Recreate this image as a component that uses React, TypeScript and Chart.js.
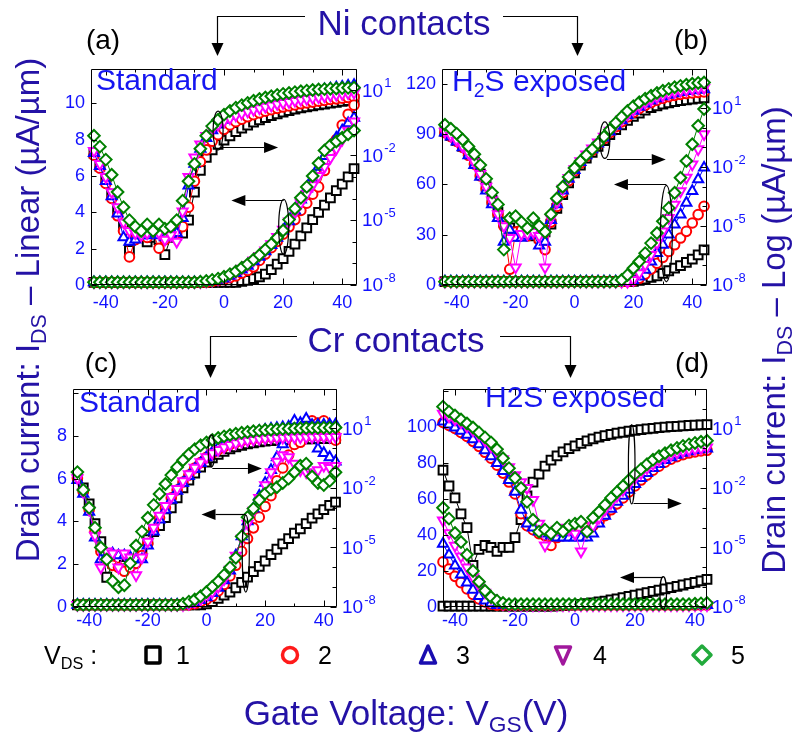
import React, { useEffect, useRef } from 'react';
import { Chart, registerables } from 'chart.js';

Chart.register(...registerables);

const FONT = '"Liberation Sans", Arial, Helvetica, sans-serif';
Chart.defaults.font.family = FONT;

// ---------------- DATA ----------------
const VGS = [-44, -42, -40, -38, -36, -34, -32, -30, -28, -26, -24, -22, -20, -18, -16, -14, -12, -10, -8, -6, -4, -2, 0, 2, 4, 6, 8, 10, 12, 14, 16, 18, 20, 22, 24, 26, 28, 30, 32, 34, 36, 38, 40, 42, 44];
const VDS_LABELS = ['1', '2', '3', '4', '5'];
const X_TICKS = [-40, -20, 0, 20, 40];
const LOG_TICK_LABELS = [1, -2, -5, -8];

// (a) Ni contacts, standard. log values are exponents of 10 (µA/µm)
const A_LOG_1 = [-1.9,-2.5,-3.1,-3.8,-4.5,-5.3,-6.4,-5.8,-5.7,-6.0,-5.8,-5.9,-6.6,-5.8,-5.7,-5.6,-5.0,-3.7,-2.7,-2.1,-1.75,-1.5,-1.3,-1.1,-0.9,-0.74,-0.6,-0.47,-0.36,-0.26,-0.17,-0.08,0.0,0.07,0.13,0.19,0.24,0.29,0.33,0.37,0.41,0.45,0.49,0.53,0.57];
const A_LOG_2 = [-2.0,-2.6,-3.3,-4.0,-4.8,-5.5,-6.7,-5.9,-5.7,-5.8,-5.6,-6.3,-5.9,-5.7,-5.6,-5.3,-4.4,-3.2,-2.3,-1.75,-1.35,-1.05,-0.8,-0.6,-0.45,-0.33,-0.22,-0.12,-0.04,0.04,0.11,0.17,0.23,0.28,0.33,0.38,0.42,0.46,0.5,0.54,0.58,0.61,0.64,0.67,0.7];
const A_LOG_3 = [-1.9,-2.5,-3.2,-3.9,-4.7,-5.8,-6.0,-5.9,-5.7,-5.7,-5.6,-5.7,-5.8,-5.7,-5.6,-4.9,-3.4,-2.4,-1.7,-1.2,-0.85,-0.58,-0.36,-0.18,-0.03,0.1,0.21,0.31,0.4,0.48,0.56,0.63,0.7,0.76,0.82,0.87,0.92,0.97,1.01,1.05,1.09,1.13,1.17,1.21,1.25];
const A_LOG_4 = [-1.8,-2.4,-3.0,-3.7,-4.4,-5.1,-5.5,-5.6,-5.7,-5.6,-5.5,-5.6,-5.9,-5.7,-6.0,-4.6,-3.0,-2.1,-1.5,-1.1,-0.8,-0.58,-0.42,-0.28,-0.16,-0.06,0.03,0.11,0.18,0.25,0.31,0.37,0.42,0.47,0.52,0.57,0.61,0.65,0.69,0.73,0.77,0.8,0.84,0.87,0.9];
const A_LOG_5 = [-1.1,-1.6,-2.2,-2.9,-3.7,-4.4,-5.0,-5.3,-5.5,-5.2,-5.5,-5.2,-5.4,-5.3,-5.0,-4.1,-3.2,-2.4,-1.7,-1.1,-0.65,-0.35,-0.12,0.05,0.2,0.32,0.42,0.52,0.6,0.67,0.73,0.79,0.84,0.88,0.92,0.96,0.99,1.02,1.04,1.06,1.08,1.09,1.11,1.12,1.13];
const A_LIN_1 = [0.15,0.15,0.15,0.15,0.15,0.15,0.15,0.15,0.15,0.15,0.15,0.15,0.15,0.15,0.15,0.15,0.15,0.15,0.15,0.15,0.15,0.15,0.15,0.15,0.15,0.2,0.25,0.35,0.45,0.6,0.85,1.15,1.45,1.85,2.25,2.7,3.15,3.6,4.0,4.4,4.8,5.2,5.55,5.95,6.4];
const A_LIN_2 = [0.15,0.15,0.15,0.15,0.15,0.15,0.15,0.15,0.15,0.15,0.15,0.15,0.15,0.15,0.15,0.15,0.15,0.15,0.15,0.15,0.2,0.25,0.3,0.4,0.5,0.65,0.8,1.0,1.35,1.7,2.05,2.4,2.8,3.2,3.6,4.1,4.5,5.0,5.4,6.3,7.2,8.0,8.8,9.4,9.9];
const A_LIN_3 = [0.15,0.15,0.15,0.15,0.15,0.15,0.15,0.15,0.15,0.15,0.15,0.15,0.15,0.15,0.15,0.15,0.15,0.15,0.15,0.18,0.22,0.28,0.35,0.5,0.65,0.85,1.05,1.3,1.55,1.85,2.2,2.6,3.0,3.5,4.1,4.7,5.3,5.9,6.5,7.1,7.6,8.1,8.5,8.9,9.2];
const A_LIN_4 = [0.15,0.15,0.15,0.15,0.15,0.15,0.15,0.15,0.15,0.15,0.15,0.15,0.15,0.15,0.15,0.15,0.15,0.15,0.15,0.2,0.25,0.32,0.4,0.55,0.7,0.9,1.1,1.35,1.6,1.9,2.25,2.65,3.05,3.5,4.0,4.5,5.0,5.5,6.0,6.5,7.0,7.5,8.0,8.5,9.0];
const A_LIN_5 = [0.15,0.15,0.15,0.15,0.15,0.15,0.15,0.15,0.15,0.15,0.15,0.15,0.15,0.15,0.15,0.15,0.15,0.15,0.18,0.22,0.28,0.35,0.45,0.6,0.75,0.95,1.15,1.4,1.65,1.95,2.25,2.6,3.0,3.6,4.2,4.8,5.4,6.0,6.7,7.4,7.7,7.9,8.1,8.3,8.5];

// (b) Ni contacts, H2S exposed
const B_LOG_1 = [-0.2,-0.4,-0.65,-0.95,-1.3,-1.75,-2.35,-3.0,-3.7,-4.3,-4.8,-5.1,-5.3,-5.3,-5.2,-5.5,-5.6,-5.3,-4.9,-4.1,-3.4,-2.8,-2.3,-1.9,-1.55,-1.25,-0.95,-0.65,-0.35,-0.1,0.15,0.38,0.58,0.75,0.9,1.02,1.12,1.2,1.27,1.33,1.38,1.42,1.46,1.49,1.52];
const B_LOG_2 = [-0.25,-0.45,-0.7,-1.0,-1.4,-1.85,-2.45,-3.1,-3.8,-4.4,-5.0,-7.2,-5.3,-5.2,-5.5,-5.4,-5.7,-6.2,-4.8,-4.0,-3.3,-2.7,-2.2,-1.8,-1.45,-1.15,-0.85,-0.55,-0.25,0.05,0.3,0.55,0.78,0.98,1.14,1.28,1.4,1.5,1.58,1.65,1.7,1.74,1.77,1.8,1.82];
const B_LOG_3 = [-0.25,-0.45,-0.7,-1.0,-1.4,-1.9,-2.5,-3.2,-3.9,-4.6,-5.8,-5.2,-5.6,-5.6,-5.5,-5.4,-6.0,-5.8,-4.7,-3.9,-3.2,-2.6,-2.15,-1.75,-1.4,-1.1,-0.8,-0.5,-0.2,0.1,0.38,0.63,0.86,1.06,1.23,1.38,1.5,1.6,1.68,1.75,1.81,1.86,1.9,1.93,1.95];
const B_LOG_4 = [-0.2,-0.4,-0.65,-0.95,-1.3,-1.75,-2.35,-3.0,-3.7,-4.4,-5.0,-5.6,-7.1,-5.4,-5.4,-5.3,-5.5,-7.1,-4.6,-3.8,-3.1,-2.55,-2.1,-1.7,-1.35,-1.05,-0.75,-0.45,-0.15,0.15,0.42,0.68,0.9,1.1,1.27,1.42,1.55,1.65,1.74,1.82,1.88,1.93,1.97,2.0,2.03];
const B_LOG_5 = [0.15,-0.05,-0.3,-0.6,-0.95,-1.35,-1.9,-2.6,-3.3,-3.9,-6.2,-4.6,-4.5,-4.8,-5.1,-4.6,-5.0,-5.3,-4.4,-3.6,-3.0,-2.5,-2.05,-1.7,-1.4,-1.1,-0.8,-0.45,-0.1,0.25,0.55,0.85,1.1,1.3,1.48,1.63,1.77,1.88,1.98,2.06,2.13,2.19,2.24,2.28,2.3];
const B_LIN_1 = [2,2,2,2,2,2,2,2,2,2,2,2,2,2,2,2,2,2,2,2,2,2,2,2,2,2,2,2,2,2,2,2,2.2,2.8,3.5,4.5,5.5,7,8.5,10,11.5,13.5,15.5,18,21];
const B_LIN_2 = [2,2,2,2,2,2,2,2,2,2,2,2,2,2,2,2,2,2,2,2,2,2,2,2,2,2,2,2,2,2,2,2,2.5,4,6.5,9.5,13,16.5,20,24,28,32,37,42,47];
const B_LIN_3 = [2,2,2,2,2,2,2,2,2,2,2,2,2,2,2,2,2,2,2,2,2,2,2,2,2,2,2,2,2,2,2,2,2.5,5,9,14,19,24,30,36,42,49,56,63,70];
const B_LIN_4 = [2,2,2,2,2,2,2,2,2,2,2,2,2,2,2,2,2,2,2,2,2,2,2,2,2,2,2,2,2,2,2,2,3,7,12,18,25,32,40,48,56,64,72,81,90];
const B_LIN_5 = [2,2,2,2,2,2,2,2,2,2,2,2,2,2,2,2,2,2,2,2,2,2,2,2,2,2,2,2,2,2,3,6,10,14,19,25,31,38,46,55,64,74,84,95,105];

// (c) Cr contacts, standard
const C_LOG_1 = [-1.4,-2.0,-2.8,-3.8,-4.7,-6.5,-5.8,-5.6,-5.9,-5.7,-5.6,-5.1,-4.6,-4.2,-3.9,-3.5,-3.0,-2.5,-2.0,-1.6,-1.25,-0.95,-0.7,-0.48,-0.3,-0.15,-0.03,0.07,0.15,0.22,0.28,0.32,0.36,0.39,0.41,0.43,0.44,0.45,0.46,0.47,0.48,0.49,0.49,0.5,0.5];
const C_LOG_2 = [-1.5,-2.2,-3.1,-4.2,-5.2,-5.6,-5.9,-6.0,-6.2,-6.0,-5.8,-5.4,-4.8,-4.1,-3.5,-3.0,-2.5,-2.1,-1.7,-1.35,-1.0,-0.72,-0.45,-0.25,-0.07,0.08,0.2,0.3,0.38,0.44,0.49,0.53,0.56,0.58,0.6,0.61,0.62,0.62,0.63,0.63,0.63,0.64,0.64,0.64,0.64];
const C_LOG_3 = [-1.6,-2.3,-3.2,-4.5,-5.6,-5.4,-5.3,-5.4,-5.4,-5.5,-5.6,-5.6,-4.9,-4.2,-3.6,-3.1,-2.6,-2.15,-1.75,-1.4,-1.05,-0.75,-0.45,-0.2,0.02,0.2,0.36,0.5,0.62,0.72,0.8,0.87,0.93,0.98,1.02,1.06,1.09,1.12,1.14,1.16,1.17,1.18,1.19,1.2,1.2];
const C_LOG_4 = [-1.5,-2.2,-3.1,-4.4,-6.0,-5.2,-5.3,-6.0,-5.3,-5.5,-6.4,-5.5,-4.7,-4.0,-3.4,-2.9,-2.45,-2.05,-1.65,-1.3,-0.98,-0.7,-0.45,-0.25,-0.08,0.06,0.17,0.26,0.33,0.39,0.43,0.47,0.5,0.52,0.53,0.54,0.55,0.55,0.56,0.56,0.56,0.57,0.57,0.57,0.57];
const C_LOG_5 = [-1.2,-2.1,-3.0,-4.0,-5.0,-5.6,-6.7,-7.0,-6.9,-5.8,-4.9,-4.2,-3.5,-2.85,-2.3,-1.8,-1.35,-0.95,-0.6,-0.3,-0.05,0.15,0.3,0.42,0.52,0.6,0.67,0.73,0.78,0.82,0.86,0.89,0.92,0.94,0.96,0.98,0.99,1.0,1.01,1.02,1.03,1.03,1.04,1.04,1.05];
const C_LIN_1 = [0.1,0.1,0.1,0.1,0.1,0.1,0.1,0.1,0.1,0.1,0.1,0.1,0.1,0.1,0.1,0.1,0.1,0.1,0.1,0.1,0.1,0.1,0.15,0.25,0.4,0.55,0.7,0.9,1.15,1.4,1.65,1.9,2.15,2.45,2.7,2.95,3.2,3.45,3.65,3.9,4.15,4.35,4.55,4.75,4.9];
const C_LIN_2 = [0.1,0.1,0.1,0.1,0.1,0.1,0.1,0.1,0.1,0.1,0.1,0.1,0.1,0.1,0.1,0.1,0.1,0.1,0.1,0.1,0.15,0.25,0.35,0.5,0.75,1.05,1.45,1.95,2.6,3.2,3.7,4.2,4.7,5.2,5.9,6.5,7.1,7.6,7.7,8.3,8.7,8.6,8.7,8.2,7.8];
const C_LIN_3 = [0.1,0.1,0.1,0.1,0.1,0.1,0.1,0.1,0.1,0.1,0.1,0.1,0.1,0.1,0.1,0.1,0.1,0.1,0.1,0.15,0.22,0.32,0.45,0.65,0.9,1.25,1.7,2.4,3.3,4.0,4.6,5.2,5.8,6.4,7.0,7.6,8.3,8.7,8.6,8.8,8.0,7.4,7.2,7.0,6.8];
const C_LIN_4 = [0.1,0.1,0.1,0.1,0.1,0.1,0.1,0.1,0.1,0.1,0.1,0.1,0.1,0.1,0.1,0.1,0.1,0.1,0.1,0.15,0.25,0.35,0.5,0.7,0.95,1.3,1.75,2.4,3.2,3.9,4.5,5.1,5.7,6.3,6.8,7.1,7.0,6.7,6.4,6.3,6.2,6.4,6.6,6.5,6.6];
const C_LIN_5 = [0.1,0.1,0.1,0.1,0.1,0.1,0.1,0.1,0.1,0.1,0.1,0.1,0.1,0.1,0.1,0.1,0.1,0.1,0.15,0.25,0.35,0.5,0.7,0.95,1.2,1.5,1.85,2.3,3.3,4.2,4.6,5.0,5.3,5.5,5.6,5.8,6.0,6.3,6.6,6.7,6.1,5.8,5.7,5.9,6.3];

// (d) Cr contacts, H2S exposed
const D_LOG_1 = [-1.1,-1.9,-2.5,-3.3,-4.0,-5.9,-5.1,-4.9,-5.0,-5.2,-5.0,-5.0,-4.5,-3.6,-2.4,-1.7,-1.3,-0.9,-0.6,-0.38,-0.18,-0.02,0.12,0.25,0.37,0.47,0.56,0.64,0.7,0.76,0.81,0.86,0.9,0.94,0.98,1.01,1.04,1.07,1.09,1.11,1.13,1.15,1.17,1.18,1.19];
const D_LOG_2 = [1.3,1.15,1.0,0.8,0.6,0.35,0.1,-0.2,-0.5,-0.85,-1.25,-1.7,-2.3,-3.3,-3.9,-4.1,-4.3,-4.4,-4.9,-4.5,-4.4,-4.3,-4.2,-4.1,-4.0,-3.9,-3.7,-3.4,-3.1,-2.8,-2.5,-2.2,-1.9,-1.6,-1.35,-1.1,-0.9,-0.7,-0.55,-0.42,-0.32,-0.24,-0.18,-0.13,-0.1];
const D_LOG_3 = [1.35,1.2,1.05,0.88,0.68,0.45,0.2,-0.1,-0.4,-0.75,-1.15,-1.6,-2.2,-3.1,-3.8,-4.0,-4.2,-4.3,-4.4,-4.5,-4.5,-4.5,-4.5,-4.5,-4.5,-4.3,-3.8,-3.4,-3.05,-2.7,-2.4,-2.1,-1.8,-1.5,-1.25,-1.0,-0.8,-0.6,-0.45,-0.33,-0.23,-0.15,-0.09,-0.05,-0.02];
const D_LOG_4 = [1.75,1.6,1.45,1.3,1.1,0.9,0.65,0.4,0.1,-0.2,-0.55,-0.95,-1.35,-1.7,-2.0,-2.6,-3.8,-4.9,-4.2,-4.1,-4.0,-4.1,-4.3,-5.2,-4.2,-3.9,-3.5,-3.1,-2.75,-2.4,-2.1,-1.8,-1.5,-1.25,-1.0,-0.8,-0.6,-0.45,-0.32,-0.22,-0.14,-0.08,-0.03,0.01,0.04];
const D_LOG_5 = [2.1,1.85,1.65,1.45,1.25,1.05,0.8,0.55,0.3,-0.05,-0.5,-1.0,-1.5,-2.0,-2.7,-3.6,-4.2,-4.1,-4.3,-4.0,-4.2,-3.9,-3.8,-3.7,-4.2,-3.5,-3.2,-2.85,-2.5,-2.2,-1.9,-1.6,-1.3,-1.05,-0.8,-0.58,-0.4,-0.25,-0.1,0.02,0.12,0.2,0.27,0.33,0.38];
const D_LIN_1 = [0.5,0.5,0.5,0.5,0.5,0.5,0.5,0.5,0.5,0.5,0.5,0.5,0.5,0.5,0.5,0.5,0.5,0.5,0.5,0.6,0.8,1.0,1.2,1.5,1.9,2.3,2.8,3.3,3.9,4.5,5.2,5.9,6.6,7.3,8.0,8.7,9.4,10.1,10.8,11.5,12.2,12.9,13.7,14.5,15.3];
const D_LIN_2 = [25,21,17,13.5,10,7,4.5,2.8,1.6,1,1,1,1,1,1,1,1,1,1,1,1,1,1,1,1,1,1,1,1,1,1,1,1,1,1,1,1,1,1,1,1,1,1,1,1];
const D_LIN_3 = [35,29,23,18,13.5,9.5,6,3.5,2,1,1,1,1,1,1,1,1,1,1,1,1,1,1,1,1,1,1,1,1,1,1,1,1,1,1,1,1,1,1,1,1,1,1,1,1];
const D_LIN_4 = [48,41,34,28,22,16.5,12,8,5,3,1.8,1,1,1,1,1,1,1,1,1,1,1,1,1,1,1,1,1,1,1,1,1,1,1,1,1,1,1,1,1,1,1,1,1,1];
const D_LIN_5 = [55,49,41,36,29,20,14,9,5.5,3.5,2.2,1.5,1.5,1.5,1.5,1.5,1.5,1.5,1.5,1.5,1.5,1.5,1.5,1.5,1.5,1.5,1.5,1.5,1.5,1.5,1.5,1.5,1.5,1.5,1.5,1.5,1.5,1.5,1.5,1.5,1.5,1.5,1.8,2.0,2.2];

// annotation marks (data units: x in V, y on linear axis)
const A_ELLIPSES = [{ x: -2, y: 8.5, rx: 1.7, ry: 1.07 }, { x: 20.2, y: 3.2, rx: 1.7, ry: 1.52 }];
const A_ARROWS = [{ x1: -1.5, x2: 18.3, y: 7.6 }, { x1: 20.2, x2: 2.5, y: 4.7 }];
const B_ELLIPSES = [{ x: 10.3, y: 86.4, rx: 1.7, ry: 10.9 }, { x: 31.2, y: 30.7, rx: 2.0, ry: 28.8 }];
const B_ARROWS = [{ x1: 11, x2: 31, y: 74.9 }, { x1: 31.2, x2: 13.4, y: 60.5 }];
const C_ELLIPSES = [{ x: 1.7, y: 7.3, rx: 1.1, ry: 0.75 }, { x: 13.4, y: 2.5, rx: 1.2, ry: 1.8 }];
const C_ARROWS = [{ x1: 2, x2: 18.9, y: 6.5 }, { x1: 13.4, x2: -1.7, y: 4.35 }];
const D_ELLIPSES = [{ x: 18.9, y: 79.2, rx: 1.1, ry: 22 }, { x: 29.4, y: 7.8, rx: 1.1, ry: 9 }];
const D_ARROWS = [{ x1: 19.5, x2: 35.6, y: 57.5 }, { x1: 29.4, x2: 15, y: 16.8 }];

// ---------------- STYLE ----------------
const TICK_BLUE = '#1212ff';
const TITLE_BLUE = '#2412a6';
const LABEL_BLUE = '#1616f0';

const SERIES = [
  { color: '#000000', style: 'rect', radius: 6.2, rot: 0, order: 4 },
  { color: '#ff0000', style: 'circle', radius: 4.8, rot: 0, order: 3 },
  { color: '#0000ff', style: 'triangle', radius: 5.8, rot: 0, order: 2 },
  { color: '#ff00ff', style: 'triangle', radius: 5.8, rot: 180, order: 1 },
  { color: '#008000', style: 'rectRot', radius: 5.8, rot: 0, order: 0 },
];

type Panel = {
  canvas: { left: number; top: number; width: number; height: number };
  plot: { left: number; right: number; top: number; bottom: number };
  xMin: number; xMax: number;
  linMax: number; linStep: number; linLabelMax: number;
  logMax: number;
  xPad: number;
  lin: number[][]; log: number[][];
  ellipses: { x: number; y: number; rx: number; ry: number }[];
  arrows: { x1: number; x2: number; y: number }[];
};

const PANELS: Panel[] = [
  {
    canvas: { left: 40, top: 52, width: 365, height: 270 },
    plot: { left: 91, right: 357, top: 62, bottom: 285 },
    xMin: -45, xMax: 45, linMax: 11.9, linStep: 2, linLabelMax: 10, logMax: 2, xPad: 7,
    lin: [A_LIN_1, A_LIN_2, A_LIN_3, A_LIN_4, A_LIN_5],
    log: [A_LOG_1, A_LOG_2, A_LOG_3, A_LOG_4, A_LOG_5],
    ellipses: A_ELLIPSES, arrows: A_ARROWS,
  },
  {
    canvas: { left: 400, top: 52, width: 345, height: 270 },
    plot: { left: 442, right: 707, top: 62, bottom: 285 },
    xMin: -45, xMax: 45, linMax: 129, linStep: 30, linLabelMax: 120, logMax: 3, xPad: 7,
    lin: [B_LIN_1, B_LIN_2, B_LIN_3, B_LIN_4, B_LIN_5],
    log: [B_LOG_1, B_LOG_2, B_LOG_3, B_LOG_4, B_LOG_5],
    ellipses: B_ELLIPSES, arrows: B_ARROWS,
  },
  {
    canvas: { left: 30, top: 372, width: 370, height: 262 },
    plot: { left: 73, right: 337, top: 382, bottom: 607 },
    xMin: -45.5, xMax: 44.5, linMax: 10.2, linStep: 2, linLabelMax: 8, logMax: 3, xPad: 3,
    lin: [C_LIN_1, C_LIN_2, C_LIN_3, C_LIN_4, C_LIN_5],
    log: [C_LOG_1, C_LOG_2, C_LOG_3, C_LOG_4, C_LOG_5],
    ellipses: C_ELLIPSES, arrows: C_ARROWS,
  },
  {
    canvas: { left: 400, top: 372, width: 345, height: 262 },
    plot: { left: 443, right: 707, top: 383, bottom: 607 },
    xMin: -44, xMax: 44, linMax: 121, linStep: 20, linLabelMax: 100, logMax: 3, xPad: 3,
    lin: [D_LIN_1, D_LIN_2, D_LIN_3, D_LIN_4, D_LIN_5],
    log: [D_LOG_1, D_LOG_2, D_LOG_3, D_LOG_4, D_LOG_5],
    ellipses: D_ELLIPSES, arrows: D_ARROWS,
  },
];

function makeFramePlugin(p: Panel) {
  return {
    id: 'frame',
    afterDraw(chart: any) {
      const { ctx, chartArea: a } = chart;
      const xs = chart.scales.x;
      const yL = chart.scales.yL;
      const yR = chart.scales.yR;
      ctx.save();
      ctx.strokeStyle = '#000';
      ctx.lineWidth = 1;
      const L = Math.round(a.left) + 0.5, R = Math.round(a.right) - 0.5;
      const T = Math.round(a.top) + 0.5, B = Math.round(a.bottom) - 0.5;
      ctx.beginPath();
      ctx.rect(L, T, R - L, B - T);
      ctx.stroke();
      ctx.beginPath();
      for (let v = -40; v <= 40; v += 10) {
        const px = Math.round(xs.getPixelForValue(v)) + 0.5;
        const len = v % 20 === 0 ? 6 : 3;
        ctx.moveTo(px, B); ctx.lineTo(px, B - len);
        ctx.moveTo(px, T); ctx.lineTo(px, T + len);
      }
      yL.ticks.forEach((t: any) => {
        const py = Math.round(yL.getPixelForValue(t.value)) + 0.5;
        ctx.moveTo(L, py); ctx.lineTo(L + 5, py);
      });
      for (let e = -8; e <= p.logMax; e++) {
        const py = Math.round(yR.getPixelForValue(Math.pow(10, e))) + 0.5;
        const len = LOG_TICK_LABELS.includes(e) ? 6 : 4;
        ctx.moveTo(R, py); ctx.lineTo(R - len, py);
      }
      ctx.stroke();
      ctx.fillStyle = TICK_BLUE;
      ctx.textAlign = 'left';
      ctx.textBaseline = 'middle';
      for (const e of LOG_TICK_LABELS) {
        const py = yR.getPixelForValue(Math.pow(10, e));
        const bx = a.right + 5;
        ctx.font = `19px ${FONT}`;
        ctx.fillText('10', bx, py + 1);
        const w = ctx.measureText('10').width;
        ctx.font = `13px ${FONT}`;
        ctx.fillText(String(e), bx + w + 1, py - 7);
      }
      ctx.strokeStyle = '#000';
      ctx.fillStyle = '#000';
      ctx.lineWidth = 1.2;
      for (const el of p.ellipses) {
        const cx = xs.getPixelForValue(el.x);
        const cy = yL.getPixelForValue(el.y);
        const rx = Math.abs(xs.getPixelForValue(el.x + el.rx) - cx);
        const ry = Math.abs(yL.getPixelForValue(el.y + el.ry) - cy);
        ctx.beginPath();
        ctx.ellipse(cx, cy, rx, ry, 0, 0, Math.PI * 2);
        ctx.stroke();
      }
      for (const ar of p.arrows) {
        const x1 = xs.getPixelForValue(ar.x1);
        const x2 = xs.getPixelForValue(ar.x2);
        const y = Math.round(yL.getPixelForValue(ar.y)) + 0.5;
        const dir = x2 > x1 ? 1 : -1;
        const hl = 14, hw = 5.5;
        ctx.beginPath();
        ctx.moveTo(x1, y); ctx.lineTo(x2 - dir * hl, y);
        ctx.stroke();
        ctx.beginPath();
        ctx.moveTo(x2, y);
        ctx.lineTo(x2 - dir * hl, y - hw);
        ctx.lineTo(x2 - dir * hl, y + hw);
        ctx.closePath();
        ctx.fill();
      }
      ctx.restore();
    },
  };
}

function PanelChart({ p }: { p: Panel }) {
  const ref = useRef<HTMLCanvasElement>(null);
  useEffect(() => {
    const c = ref.current;
    if (!c) return;
    const leftW = p.plot.left - p.canvas.left;
    const rightW = p.canvas.left + p.canvas.width - p.plot.right;
    const topPad = p.plot.top - p.canvas.top;
    const xH = p.canvas.top + p.canvas.height - p.plot.bottom;
    const datasets: any[] = [];
    SERIES.forEach((s, k) => {
      const common = {
        borderColor: s.color,
        borderWidth: 1,
        backgroundColor: '#ffffff',
        pointStyle: s.style,
        pointRadius: s.radius,
        pointRotation: s.rot,
        pointBorderColor: s.color,
        pointBackgroundColor: '#ffffff',
        pointBorderWidth: 2,
        fill: false,
        tension: 0,
        clip: false,
        order: s.order,
      };
      datasets.push({ ...common, yAxisID: 'yL', data: VGS.map((x, i) => ({ x, y: p.lin[k][i] })) });
      datasets.push({ ...common, yAxisID: 'yR', data: VGS.map((x, i) => ({ x, y: Math.pow(10, p.log[k][i]) })) });
    });
    const decades: number[] = [];
    for (let e = -8; e <= p.logMax; e++) decades.push(e);
    const chart = new Chart(c, {
      type: 'line',
      data: { datasets },
      options: {
        animation: false,
        responsive: false,
        devicePixelRatio: 1,
        events: [],
        layout: { padding: { top: topPad, left: 0, right: 0, bottom: 0 } },
        plugins: { legend: { display: false }, tooltip: { enabled: false } },
        scales: {
          x: {
            type: 'linear',
            position: 'bottom',
            min: p.xMin,
            max: p.xMax,
            grid: { display: false, drawTicks: false },
            border: { display: false },
            ticks: {
              stepSize: 20,
              includeBounds: false,
              autoSkip: false,
              maxRotation: 0,
              padding: p.xPad,
              color: TICK_BLUE,
              font: { family: FONT, size: 18 },
              callback: (v: any) => (X_TICKS.includes(Number(v)) ? String(v) : ''),
            },
            afterFit: (s: any) => { s.height = xH; },
          },
          yL: {
            type: 'linear',
            position: 'left',
            min: 0,
            max: p.linMax,
            grid: { display: false, drawTicks: false },
            border: { display: false },
            ticks: {
              stepSize: p.linStep,
              includeBounds: false,
              padding: 6,
              color: TICK_BLUE,
              font: { family: FONT, size: 18 },
              callback: (v: any) => (Number(v) <= p.linLabelMax ? String(v) : ''),
            },
            afterFit: (s: any) => { s.width = leftW; },
          },
          yR: {
            type: 'logarithmic',
            position: 'right',
            min: 1e-8,
            max: Math.pow(10, p.logMax),
            grid: { display: false, drawTicks: false },
            border: { display: false },
            ticks: { display: false },
            afterBuildTicks: (s: any) => { s.ticks = decades.map((e) => ({ value: Math.pow(10, e) })); },
            afterFit: (s: any) => { s.width = rightW; },
          },
        },
      } as any,
      plugins: [makeFramePlugin(p)],
    });
    return () => chart.destroy();
  }, [p]);
  return (
    <canvas
      ref={ref}
      width={p.canvas.width}
      height={p.canvas.height}
      style={{ position: 'absolute', left: p.canvas.left, top: p.canvas.top, width: p.canvas.width, height: p.canvas.height }}
    />
  );
}

const sub: React.CSSProperties = { fontSize: '0.65em', position: 'relative', top: '0.32em' };

function Txt(props: { x: number; y: number; size: number; color: string; anchor?: 'left' | 'center'; rotate?: boolean; children: React.ReactNode }) {
  const { x, y, size, color, anchor = 'center', rotate = false, children } = props;
  let transform = anchor === 'center' ? 'translate(-50%, -50%)' : 'translate(0, -50%)';
  if (rotate) transform += ' rotate(-90deg)';
  return (
    <div style={{ position: 'absolute', left: x, top: y, transform, fontSize: size, color, lineHeight: 1, whiteSpace: 'nowrap', fontFamily: FONT }}>
      {children}
    </div>
  );
}

function Legend() {
  const sw = 3.5;
  return (
    <>
      <rect x={146} y={647} width={14} height={16} fill="none" stroke="#000" strokeWidth={sw} rx={1} />
      <circle cx={290} cy={655} r={7.5} fill="none" stroke="#ff1a1a" strokeWidth={sw} />
      <polygon points="428,646 420.5,663 435.5,663" fill="none" stroke="#1a0db0" strokeWidth={sw} strokeLinejoin="round" />
      <polygon points="563,664 555.5,647 570.5,647" fill="none" stroke="#a0189c" strokeWidth={sw} strokeLinejoin="round" />
      <polygon points="702,646 711,655 702,664 693,655" fill="none" stroke="#22aa3c" strokeWidth={sw} strokeLinejoin="round" />
    </>
  );
}

export default function App() {
  const legendX = [176, 318, 456, 593, 731];
  return (
    <div style={{ position: 'absolute', left: 0, top: 0, width: 793, height: 738, background: '#ffffff', overflow: 'hidden', fontFamily: FONT }}>
      {PANELS.map((p, i) => <PanelChart key={i} p={p} />)}
      <svg width={793} height={738} style={{ position: 'absolute', left: 0, top: 0, pointerEvents: 'none' }}>
        <g stroke="#000" strokeWidth={1.2} fill="none">
          <polyline points="305,16.5 217.5,16.5 217.5,46" />
          <polyline points="503,16.5 577.5,16.5 577.5,46" />
          <polyline points="297,336.5 210.5,336.5 210.5,367" />
          <polyline points="500,336.5 570.5,336.5 570.5,367" />
        </g>
        <g fill="#000">
          <polygon points="211.5,43 223.5,43 217.5,56" />
          <polygon points="571.5,43 583.5,43 577.5,56" />
          <polygon points="204.5,365 216.5,365 210.5,378" />
          <polygon points="564.5,365 576.5,365 570.5,378" />
        </g>
        <Legend />
      </svg>
      <Txt x={404} y={22} size={35} color={TITLE_BLUE}>Ni contacts</Txt>
      <Txt x={396} y={339} size={35} color={TITLE_BLUE}>Cr contacts</Txt>
      <Txt x={103} y={40} size={28} color="#000">(a)</Txt>
      <Txt x={691} y={40} size={28} color="#000">(b)</Txt>
      <Txt x={101} y={363} size={28} color="#000">(c)</Txt>
      <Txt x={692} y={363} size={28} color="#000">(d)</Txt>
      <Txt x={96} y={80} size={30} color={LABEL_BLUE} anchor="left">Standard</Txt>
      <Txt x={452} y={81} size={30} color={LABEL_BLUE} anchor="left">H<span style={sub}>2</span>S exposed</Txt>
      <Txt x={79} y={402} size={30} color={LABEL_BLUE} anchor="left">Standard</Txt>
      <Txt x={485} y={397} size={30} color={LABEL_BLUE} anchor="left">H2S exposed</Txt>
      <Txt x={27} y={310} size={33} color={TITLE_BLUE} rotate>
        Drain current: I<span style={sub}>DS</span> – Linear (µA/µm)
      </Txt>
      <Txt x={773} y={340} size={33} color={TITLE_BLUE} rotate>
        Drain current: I<span style={sub}>DS</span> – Log (µA/µm)
      </Txt>
      <Txt x={406} y={712} size={35} color={TITLE_BLUE}>
        Gate Voltage: V<span style={sub}>GS</span>(V)
      </Txt>
      <Txt x={44} y={655} size={25} color="#000" anchor="left">
        V<span style={sub}>DS</span> :
      </Txt>
      {VDS_LABELS.map((l, i) => (
        <Txt key={l} x={legendX[i]} y={655} size={25} color="#000" anchor="left">{l}</Txt>
      ))}
    </div>
  );
}
